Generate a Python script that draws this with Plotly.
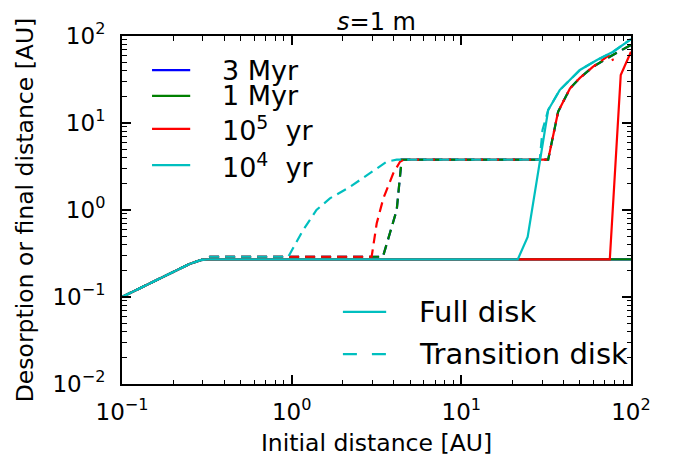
import plotly.graph_objects as go

# ---------------- data ----------------
# Full disk (solid lines)
full_3myr_x = [0.1, 0.15, 0.2, 0.25, 0.29, 0.32, 100]
full_3myr_y = [0.1, 0.148, 0.195, 0.24, 0.265, 0.27, 0.27]
full_1myr_x = [0.1, 0.15, 0.2, 0.25, 0.29, 0.32, 100]
full_1myr_y = [0.1, 0.148, 0.195, 0.24, 0.265, 0.27, 0.27]
full_1e5_x = [0.1, 0.15, 0.2, 0.25, 0.29, 0.32, 75, 87, 100]
full_1e5_y = [0.1, 0.148, 0.195, 0.24, 0.265, 0.27, 0.27, 35.6, 66]
full_1e4_x = [0.1, 0.15, 0.2, 0.25, 0.29, 0.32, 21.5, 24.6, 32.5, 38, 50, 63, 78.5, 100]
full_1e4_y = [0.1, 0.148, 0.195, 0.24, 0.265, 0.27, 0.27, 0.49, 14.1, 23.9, 40.7, 53, 66, 92]

# Transition disk (dashed lines)
trans_3myr_x = [0.1, 0.15, 0.2, 0.25, 0.29, 0.33, 3.45, 4.16, 4.45, 32.5, 37.2, 43.7, 50, 59.8, 75, 100]
trans_3myr_y = [0.1, 0.148, 0.195, 0.24, 0.265, 0.29, 0.29, 1.0, 3.8, 3.8, 13.5, 25, 33, 44.4, 57.8, 79]
trans_1myr_x = [0.1, 0.15, 0.2, 0.25, 0.29, 0.33, 3.45, 4.16, 4.45, 32.5, 37.2, 43.7, 50, 59.8, 75, 100]
trans_1myr_y = [0.1, 0.148, 0.195, 0.24, 0.265, 0.29, 0.29, 1.0, 3.8, 3.8, 13.5, 25, 33, 44.4, 57.8, 79]
trans_1e5_x = [0.1, 0.15, 0.2, 0.25, 0.29, 0.33, 2.96, 3.17, 3.47, 3.63, 3.97, 4.35, 4.6,
               32.5, 37.2, 43.7, 50, 59.8, 75.5, 78.5]
trans_1e5_y = [0.1, 0.148, 0.195, 0.24, 0.265, 0.29, 0.29, 0.70, 1.36, 1.70, 2.64, 3.59, 3.8,
               3.8, 13.5, 25, 33, 44.4, 61.6, 52]
trans_1e4_x = [0.1, 0.15, 0.2, 0.25, 0.29, 0.33, 0.955, 1.17, 1.40, 1.68, 2.21, 2.89, 3.63, 4.16,
               29, 30.1, 32.5, 38, 50, 63, 78.5, 100]
trans_1e4_y = [0.1, 0.148, 0.195, 0.24, 0.265, 0.29, 0.29, 0.59, 1.0, 1.36, 1.85, 2.64, 3.59, 3.8,
               3.8, 8.3, 14.1, 23.9, 40.7, 53, 66, 92]

age_labels = ["3 Myr", "1 Myr", "10<sup>5</sup>  yr", "10<sup>4</sup>  yr"]
age_colors = ["#0000ff", "#008000", "#ff0000", "#00bfbf"]
disk_labels = ["Full disk", "Transition disk"]

x_tickvals = [0.1, 1, 10, 100]
x_ticktext = ["10<sup>\u22121</sup>", "10<sup>0</sup>", "10<sup>1</sup>", "10<sup>2</sup>"]
y_tickvals = [0.01, 0.1, 1, 10, 100]
y_ticktext = ["10<sup>\u22122</sup>", "10<sup>\u22121</sup>", "10<sup>0</sup>", "10<sup>1</sup>", "10<sup>2</sup>"]

full_series = [(full_3myr_x, full_3myr_y), (full_1myr_x, full_1myr_y),
               (full_1e5_x, full_1e5_y), (full_1e4_x, full_1e4_y)]
trans_series = [(trans_3myr_x, trans_3myr_y), (trans_1myr_x, trans_1myr_y),
                (trans_1e5_x, trans_1e5_y), (trans_1e4_x, trans_1e4_y)]

FONT = "DejaVu Sans"
LW = 2.2
DASH = "10px,6px"

fig = go.Figure()
for i in range(4):
    fx, fy = full_series[i]
    tx, ty = trans_series[i]
    fig.add_trace(go.Scatter(x=fx, y=fy, mode="lines", name=age_labels[i] + " (full)",
                             line=dict(color=age_colors[i], width=LW), showlegend=False))
    fig.add_trace(go.Scatter(x=tx, y=ty, mode="lines", name=age_labels[i] + " (transition)",
                             line=dict(color=age_colors[i], width=LW, dash=DASH),
                             showlegend=False))

minor_x = [m * 10 ** e for e in (-1, 0, 1) for m in range(2, 10)]
minor_y = [m * 10 ** e for e in (-2, -1, 0, 1) for m in range(2, 10)]

# ---- legend boxes drawn as key lines + text (paper coordinates) ----
shapes = []
annotations = []
leg1_rows = [0.902, 0.828, 0.733, 0.629]
leg1_x0, leg1_x1, leg1_tx = 0.059, 0.134, 0.1925
for i in range(4):
    shapes.append(dict(type="line", xref="paper", yref="paper",
                       x0=leg1_x0, x1=leg1_x1, y0=leg1_rows[i], y1=leg1_rows[i],
                       line=dict(color=age_colors[i], width=LW)))
    annotations.append(dict(text=age_labels[i], xref="paper", yref="paper",
                            x=leg1_tx, y=leg1_rows[i], xanchor="left", yanchor="middle",
                            showarrow=False, font=dict(family=FONT, size=27, color="black")))
leg2_rows = [0.207, 0.086]
leg2_x0, leg2_x1, leg2_tx = 0.434, 0.519, 0.579
leg2_dash = [None, "14px,15px"]
for i in range(2):
    ln = dict(color=age_colors[3], width=LW)
    if leg2_dash[i]:
        ln["dash"] = leg2_dash[i]
    shapes.append(dict(type="line", xref="paper", yref="paper",
                       x0=leg2_x0, x1=leg2_x1, y0=leg2_rows[i], y1=leg2_rows[i], line=ln))
    annotations.append(dict(text=disk_labels[i], xref="paper", yref="paper",
                            x=leg2_tx, y=leg2_rows[i], xanchor="left", yanchor="middle",
                            showarrow=False, font=dict(family=FONT, size=29, color="black")))

axis_common = dict(type="log", showline=True, linewidth=2, linecolor="black", mirror="allticks",
                   ticks="inside", ticklen=9, tickwidth=1.5, tickcolor="black",
                   showgrid=False, zeroline=False, tickmode="array", automargin=False,
                   tickfont=dict(family=FONT, size=23, color="black"))

fig.update_layout(
    width=679, height=456,
    margin=dict(l=114, r=56, t=28, b=80),
    paper_bgcolor="white", plot_bgcolor="white",
    font=dict(family=FONT, color="black", size=23),
    showlegend=False,
    shapes=shapes,
    annotations=annotations,
    title=dict(text="<i>s</i>=1 m", x=0.5, xref="paper", xanchor="center",
               y=1, yref="paper", yanchor="bottom", pad=dict(b=6),
               font=dict(family=FONT, size=24, color="black")),
    xaxis=dict(axis_common, range=[-1, 2], tickvals=x_tickvals, ticktext=x_ticktext,
               ticklabelstandoff=6,
               minor=dict(tickvals=minor_x, ticks="inside", ticklen=4.5, tickwidth=1, tickcolor="black"),
               title=dict(text="Initial distance [AU]", standoff=11,
                          font=dict(family=FONT, size=23.5, color="black"))),
    yaxis=dict(axis_common, range=[-2, 2], tickvals=y_tickvals, ticktext=y_ticktext,
               ticklabelstandoff=10,
               minor=dict(tickvals=minor_y, ticks="inside", ticklen=4.5, tickwidth=1, tickcolor="black"),
               title=dict(text="Desorption or final distance [AU]", standoff=12,
                          font=dict(family=FONT, size=23.5, color="black"))),
)

fig.write_html("out.html")
